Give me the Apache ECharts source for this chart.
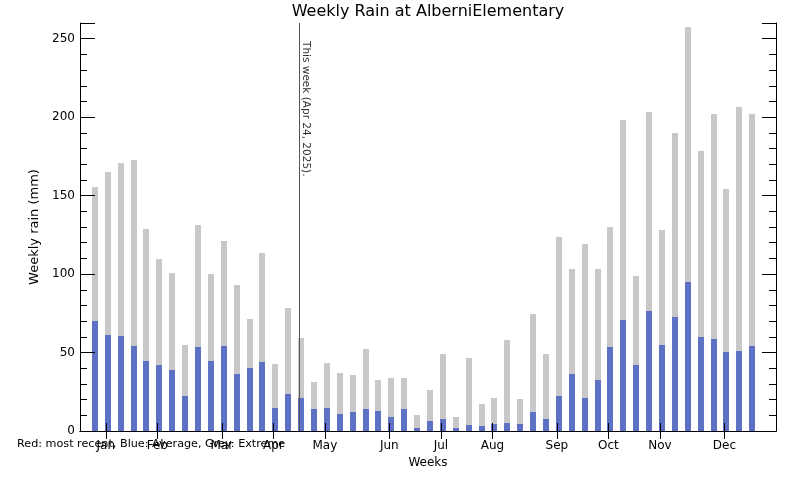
<!DOCTYPE html>
<html>
<head>
<meta charset="utf-8">
<script src="https://cdn.jsdelivr.net/npm/echarts@6/dist/echarts.min.js"></script>
<style>html,body{margin:0;padding:0;background:#fff}#c{width:800px;height:480px}</style>
</head>
<body>
<div id="c"></div>
<script>
const titleText = 'Weekly Rain at AlberniElementary';
const legendNote = 'Red: most recent, Blue: Average, Grey: Extreme';
const thisWeekLabel = 'This week (Apr 24, 2025).';
const thisWeek = [17];
const weeks = [1,2,3,4,5,6,7,8,9,10,11,12,13,14,15,16,17,18,19,20,21,22,23,24,25,26,
  27,28,29,30,31,32,33,34,35,36,37,38,39,40,41,42,43,44,45,46,47,48,49,50,51,52];
const extremeRain = [155.7,165.3,171,173,128.9,109.8,100.8,54.9,131.5,100.2,121.3,93.2,71.5,113.6,42.8,78.5,
  59.4,31.3,43.4,37.0,35.7,52.3,32.6,33.8,33.8,10.2,26.2,49.1,8.9,46.6,17.2,21.1,58.1,20.4,74.7,49.1,
  123.8,103.4,119.4,103.4,130.2,197.9,98.9,203.6,128.3,189.6,257.2,178.7,201.7,154.5,206.2,202.3];
const averageRain = [70.4,61.3,60.6,54.2,44.7,42.1,38.9,22.3,53.6,44.7,54.2,36.4,40.2,44.0,14.7,23.6,
  21.1,14.0,14.7,10.9,12.1,14.0,12.8,8.9,14.0,1.9,6.4,7.7,1.9,3.8,3.2,4.5,5.1,4.5,12.1,7.7,
  22.3,36.4,21.1,32.6,53.6,70.8,42.1,76.6,54.9,72.8,95.1,60.0,58.7,50.4,51.1,54.2];
const monthNames = ['Jan','Feb','Mar','Apr','May','Jun','Jul','Aug','Sep','Oct','Nov','Dec'];
const monthWeeks = [2,6,11,15,19,24,28,32,37,41,45,50];
const yMax = 260;
const xSlots = 54;

const slotCats = [];
for (let i = 0; i <= xSlots; i++) slotCats.push(String(i));
const isMonth = (idx) => monthWeeks.indexOf(idx) >= 0;
const monthLabel = (v, idx) => { const k = monthWeeks.indexOf(idx); return k >= 0 ? monthNames[k] : ''; };

const FONT = 'DejaVu Sans';
const GRAY = '#c8c8c8';
const BLUE = '#5e72c5';

function barRenderer(color) {
  return function (params, api) {
    const base = api.coord([api.value(0), 0]);
    const top = api.coord([api.value(0), api.value(1)]);
    const x = Math.round(base[0]) - 1;
    const y = Math.round(top[1]);
    return { type: 'rect', shape: { x: x, y: y, width: 6, height: Math.round(base[1]) - y }, style: { fill: color } };
  };
}

const chart = echarts.init(document.getElementById('c'), null, { renderer: 'canvas' });
const yCommon = { type: 'value', min: 0, max: yMax, splitLine: { show: false } };
chart.setOption({
  animation: false,
  backgroundColor: '#ffffff',
  grid: { left: 80, right: 24, top: 23, bottom: 49 },
  xAxis: [
    { type: 'category', data: slotCats, boundaryGap: false, position: 'bottom', z: 3,
      axisLine: { lineStyle: { color: '#000', width: 1 } },
      axisTick: { inside: true, length: 8, interval: isMonth, lineStyle: { color: '#000' } },
      axisLabel: { interval: isMonth, formatter: monthLabel, color: '#000', fontFamily: FONT, fontSize: 12, margin: 9 },
      name: 'Weeks', nameLocation: 'middle', nameGap: 24,
      nameTextStyle: { color: '#000', fontFamily: FONT, fontSize: 12 } },
    { type: 'category', data: slotCats, boundaryGap: false, position: 'top', z: 3,
      axisLine: { lineStyle: { color: '#000', width: 1 } },
      axisTick: { inside: true, length: 8, interval: isMonth, lineStyle: { color: '#000' } },
      axisLabel: { show: false } }
  ],
  yAxis: [
    Object.assign({}, yCommon, { position: 'left', interval: 50, z: 3,
      axisLine: { show: true, lineStyle: { color: '#000' } },
      axisTick: { show: true, inside: true, length: 15, lineStyle: { color: '#000' } },
      axisLabel: { formatter: (v) => (v % 50 === 0 ? String(v) : ''), color: '#000', fontFamily: FONT, fontSize: 12, margin: 5 },
      name: 'Weekly rain (mm)', nameLocation: 'middle', nameGap: 38,
      nameTextStyle: { color: '#000', fontFamily: FONT, fontSize: 13 } }),
    Object.assign({}, yCommon, { position: 'left', interval: 10, z: 3,
      axisLine: { show: false }, axisLabel: { show: false },
      axisTick: { show: true, inside: true, length: 7, lineStyle: { color: '#000' } } }),
    Object.assign({}, yCommon, { position: 'right', interval: 50, z: 3,
      axisLine: { show: true, lineStyle: { color: '#000' } }, axisLabel: { show: false },
      axisTick: { show: true, inside: true, length: 14, lineStyle: { color: '#000' } } }),
    Object.assign({}, yCommon, { position: 'right', interval: 10, z: 3,
      axisLine: { show: false }, axisLabel: { show: false },
      axisTick: { show: true, inside: true, length: 7, lineStyle: { color: '#000' } } })
  ],
  graphic: [
    { type: 'text', x: 428, y: 12, style: { text: titleText, fill: '#000', font: '16px "DejaVu Sans"', align: 'center', verticalAlign: 'middle' } },
    { type: 'text', x: 17, y: 444, z: 10, style: { text: legendNote, fill: '#000', font: '11.2px "DejaVu Sans"', align: 'left', verticalAlign: 'middle' } }
  ],
  series: [
    { type: 'custom', name: 'Extreme', z: 2, renderItem: barRenderer(GRAY),
      data: weeks.map((w, i) => [w, extremeRain[i]]) },
    { type: 'custom', name: 'Average', z: 2, renderItem: barRenderer(BLUE),
      data: weeks.map((w, i) => [w, averageRain[i]]) },
    { type: 'custom', name: 'This week', z: 4,
      renderItem: function (params, api) {
        const b = api.coord([api.value(0), 0]);
        const t = api.coord([api.value(0), yMax]);
        const x = Math.round(b[0]) + 0.5;
        return { type: 'group', children: [
          { type: 'line', shape: { x1: x, y1: b[1], x2: x, y2: t[1] }, style: { stroke: '#555555', lineWidth: 1 } },
          { type: 'text', x: x + 1, y: 41, rotation: -Math.PI / 2,
            style: { text: thisWeekLabel, fill: '#333', font: '10.5px "DejaVu Sans"', align: 'left', verticalAlign: 'bottom' } }
        ] };
      },
      data: thisWeek.map((w) => [w]) }
  ]
});
</script>
</body>
</html>
